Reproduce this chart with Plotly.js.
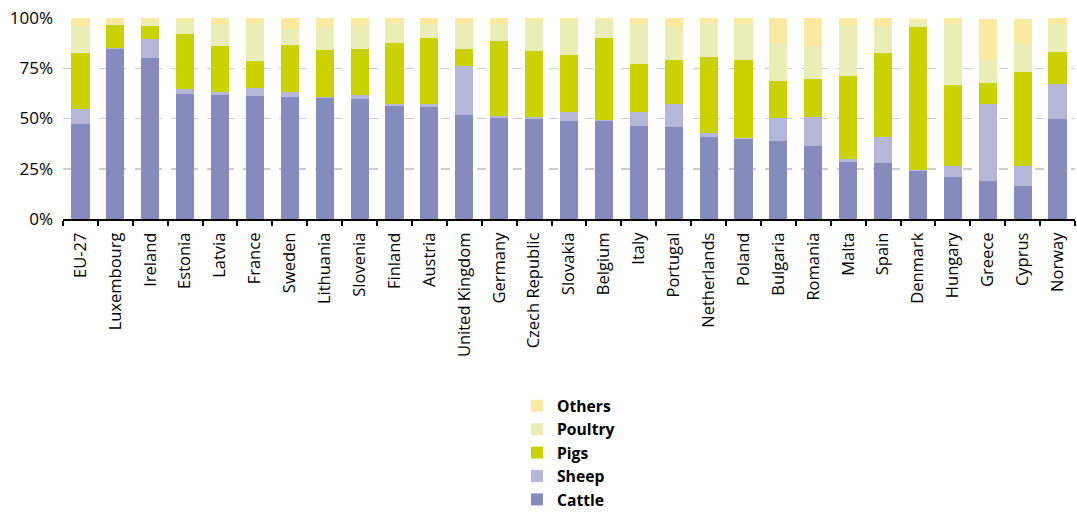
<!DOCTYPE html>
<html>
<head>
<meta charset="utf-8">
<script src="https://cdn.plot.ly/plotly-3.0.1.min.js"></script>
<style>html,body{margin:0;padding:0;background:#fff;overflow:hidden;}#chart{width:1077px;height:530px;}</style>
</head>
<body>
<div id="chart"></div>
<script>
const countries = ["EU-27","Luxembourg","Ireland","Estonia","Latvia","France","Sweden","Lithuania","Slovenia","Finland","Austria","United Kingdom","Germany","Czech Republic","Slovakia","Belgium","Italy","Portugal","Netherlands","Poland","Bulgaria","Romania","Malta","Spain","Denmark","Hungary","Greece","Cyprus","Norway"];
const cattle  = [47.3,84.6,80.1,62.2,61.7,61.2,60.7,60.2,59.7,56.2,55.7,51.7,50.2,49.8,48.8,48.8,46.3,45.8,40.8,39.8,38.8,36.3,28.4,27.9,23.9,20.9,18.9,16.4,49.8];
const sheep   = [7.4,0.5,9.3,2.3,1.6,4.0,2.5,0.5,2.0,1.0,1.5,24.4,1.0,0.9,4.4,0.5,6.9,11.4,2.0,0.5,11.4,14.4,1.5,12.9,0.5,5.5,38.3,10.0,17.4];
const pigs    = [27.9,11.4,6.6,27.5,22.7,13.4,23.4,23.4,22.9,30.4,32.8,8.5,37.4,32.9,28.4,40.7,23.9,21.9,37.8,38.8,18.5,19.0,41.2,41.8,71.1,40.3,10.5,46.7,15.9];
const poultry = [13.6,0.5,2.0,6.0,11.0,18.9,7.9,11.4,11.4,9.9,7.0,12.9,8.4,14.9,16.9,9.0,19.9,16.4,16.9,17.9,18.9,16.4,24.9,13.4,3.0,30.3,11.4,14.0,13.9];
const others  = [3.8,3.0,2.0,2.0,3.0,2.5,5.5,4.5,4.0,2.5,3.0,2.5,3.0,1.5,1.5,1.0,3.0,4.5,2.5,3.0,12.4,13.9,4.0,4.0,1.0,3.0,20.4,12.4,3.0];
const yTicks = [0,25,50,75,100];

const series = [
  {name:"Cattle", y:cattle, color:"#858bbd"},
  {name:"Sheep", y:sheep, color:"#b5b7d9"},
  {name:"Pigs", y:pigs, color:"#cad300"},
  {name:"Poultry", y:poultry, color:"#eaedb5"},
  {name:"Others", y:others, color:"#f9e9a1"}
];
const data = series.map(s => ({
  type:"bar", x:countries, y:s.y, name:s.name,
  marker:{color:s.color, line:{width:0}},
  hoverinfo:"skip"
}));
const font = "'Open Sans', 'Noto Sans', sans-serif";
const layout = {
  width:1077, height:530,
  margin:{l:63, r:2, t:18, b:311, pad:0},
  barmode:"stack", bargap:0.48,
  paper_bgcolor:"#fff", plot_bgcolor:"#fff",
  font:{family:font, size:16, color:"#000"},
  showlegend:true,
  legend:{traceorder:"reversed", orientation:"v", x:0.4486, xanchor:"left", y:-0.846, yanchor:"top",
          font:{family:font, size:15.7, color:"#000", weight:"bold"}, tracegroupgap:0, itemwidth:30,
          bgcolor:"rgba(0,0,0,0)"},
  xaxis:{type:"category", tickangle:-90, ticks:"outside", ticklen:5, tickwidth:2, tickcolor:"#000",
         tickson:"boundaries", showline:true, linecolor:"#000", linewidth:2, showgrid:false,
         ticklabelstandoff:5,
         tickfont:{family:font, size:16.5, color:"#000"}, fixedrange:true},
  yaxis:{range:[0,100], tickvals:yTicks, ticktext:yTicks.map(v=>v+"%"), showgrid:true,
         gridcolor:"#cccccc", griddash:"dash", gridwidth:1.5, zeroline:false, showline:false,
         ticks:"", ticklabelstandoff:9, tickfont:{family:font, size:17, color:"#000"}, fixedrange:true}
};
Plotly.newPlot("chart", data, layout, {displayModeBar:false, staticPlot:true});
</script>
</body>
</html>
